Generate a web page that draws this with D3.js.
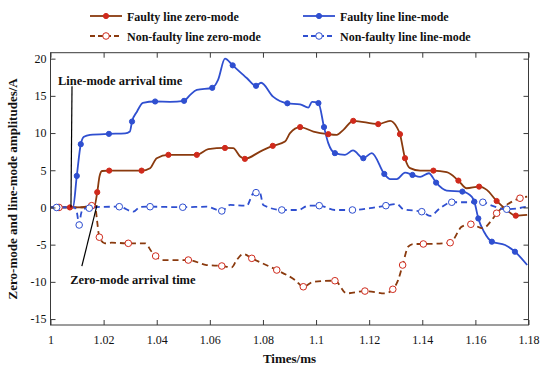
<!DOCTYPE html>
<html><head><meta charset="utf-8">
<script src="https://cdn.jsdelivr.net/npm/d3@7"></script>
<style>
html,body{margin:0;padding:0;background:#fff;}
svg{display:block;}
text{font-family:"Liberation Serif","Times New Roman",serif;}
</style></head>
<body><svg id="c" width="550" height="372"></svg>
<script>
// ---- data: [time ms, amplitude A, marker flag] ----
const seriesNames = ["Faulty line zero-mode","Faulty line line-mode","Non-faulty line zero-mode","Non-faulty line line-mode"];
const xTicks = [1,1.02,1.04,1.06,1.08,1.1,1.12,1.14,1.16,1.18];
const xTickLabels = ["1","1.02","1.04","1.06","1.08","1.1","1.12","1.14","1.16","1.18"];
const yTicks = [-15,-10,-5,0,5,10,15,20];
const yTickLabels = ["-15","-10","-5","0","5","10","15","20"];

const faultyZero = [
[1.0,0,0],[1.0073,0,1],[1.0164,0.03,0],[1.0176,2.05,1],[1.0185,4.24,0],[1.0194,4.9,0],[1.0221,4.95,1],
[1.0343,4.95,1],[1.0375,5.28,0],[1.04,6.62,0],[1.0444,7.07,1],[1.0551,7.07,1],[1.0594,7.83,0],[1.0657,8.0,1],
[1.0688,7.97,0],[1.0714,6.84,0],[1.0732,6.53,1],[1.0789,7.51,0],[1.0837,8.28,1],[1.0883,8.86,0],[1.0902,9.99,0],
[1.094,10.8,1],[1.099,10.2,0],[1.1046,9.85,1],[1.1078,9.76,0],[1.1103,10.43,0],[1.114,11.64,1],[1.1234,11.2,1],
[1.1279,11.64,0],[1.1304,10.8,0],[1.1316,9.85,1],[1.1335,6.62,1],[1.1354,5.28,0],[1.1392,4.95,0],[1.1442,4.95,1],
[1.1492,4.74,0],[1.1536,3.61,1],[1.1567,2.58,0],[1.1614,2.8,1],[1.1643,2.36,0],[1.168,0.87,1],[1.1718,-0.34,0],
[1.1752,-1.1,1],[1.1795,-1.0,0]];

const faultyLine = [
[1.0,0,0],[1.0073,0,0],[1.0085,0.07,0],[1.0099,4.24,1],[1.0114,8.5,1],[1.0126,9.49,0],[1.0149,9.76,0],
[1.022,9.89,1],[1.0281,9.96,0],[1.0299,10.2,0],[1.0307,11.55,1],[1.0326,12.9,0],[1.0348,14.07,0],[1.0394,14.24,1],
[1.045,14.2,0],[1.0503,14.33,1],[1.0526,15.14,0],[1.0551,15.8,0],[1.0609,16.08,1],[1.0631,17.16,0],[1.0657,20.0,0],
[1.0686,19.1,1],[1.0739,17.4,0],[1.0774,16.35,1],[1.0793,16.76,0],[1.0838,14.9,0],[1.0892,14.0,1],[1.094,13.86,0],
[1.0971,13.43,0],[1.0985,14.2,0],[1.1009,14.03,1],[1.103,10.8,1],[1.1046,8.64,0],[1.1071,7.3,1],[1.1109,7.07,0],
[1.1139,7.67,0],[1.1178,6.62,1],[1.121,7.3,0],[1.1257,4.5,1],[1.1279,3.8,0],[1.1304,3.8,0],[1.1335,4.68,0],
[1.1363,4.37,1],[1.1392,4.1,0],[1.1425,4.6,0],[1.1452,3.34,1],[1.1492,2.26,0],[1.1551,2.13,1],[1.1586,1.45,0],
[1.1596,0.78,1],[1.1611,-1.48,1],[1.1633,-3.3,0],[1.1662,-4.6,1],[1.1712,-5.05,0],[1.1749,-5.95,1],[1.1795,-7.74,0]];

const nonFaultyZero = [
[1.0,0,0],[1.0032,0,1],[1.0111,0,0],[1.0155,0.24,1],[1.0168,0.2,0],[1.0175,-1.68,0],[1.0184,-4.0,1],
[1.0205,-4.82,0],[1.023,-4.74,0],[1.0293,-4.82,1],[1.0356,-4.82,0],[1.0381,-5.95,0],[1.0396,-6.53,1],[1.0419,-7.07,0],
[1.0519,-7.07,1],[1.0588,-7.74,0],[1.0645,-7.87,1],[1.0682,-8.05,0],[1.0701,-7.07,0],[1.0726,-6.26,0],[1.0758,-6.84,1],
[1.0852,-8.41,1],[1.0921,-9.76,0],[1.0952,-10.66,1],[1.099,-9.99,0],[1.1071,-9.85,1],[1.1115,-11.55,0],[1.1184,-11.24,1],
[1.126,-11.55,0],[1.1289,-11.0,1],[1.1309,-9.76,0],[1.1326,-7.74,1],[1.1347,-5.28,0],[1.1366,-4.91,0],[1.1404,-4.91,1],
[1.1505,-4.74,1],[1.1549,-2.58,0],[1.1583,-2.26,1],[1.1628,-2.8,0],[1.1662,-1.68,0],[1.168,-0.78,1],[1.1718,0.34,0],
[1.1768,1.24,1],[1.1795,1.45,0]];

const nonFaultyLine = [
[1.0,0,0],[1.0023,0,1],[1.0089,0,0],[1.0099,-0.6,0],[1.0108,-2.36,1],[1.0115,-0.87,0],[1.0122,-0.2,0],
[1.0146,-0.1,1],[1.0186,0.07,0],[1.0259,0.1,1],[1.0312,-0.57,0],[1.0337,0.07,0],[1.0375,0.1,1],[1.0498,0.03,1],
[1.0588,0.1,0],[1.0645,-0.47,1],[1.0676,0.34,0],[1.0739,0.24,0],[1.0764,1.91,0],[1.0774,1.99,1],[1.0789,1.91,0],
[1.0801,0.34,0],[1.0871,-0.34,1],[1.0933,-0.34,0],[1.0971,0.24,0],[1.1012,0.24,1],[1.1071,-0.34,0],[1.1137,-0.34,1],
[1.1203,-0.1,0],[1.1263,0.24,1],[1.1304,0.47,0],[1.1329,-0.24,0],[1.1398,-0.57,1],[1.1429,-1.14,0],[1.1467,-0.1,0],
[1.1511,0.7,1],[1.1573,0.7,0],[1.1628,0.7,1],[1.1662,0.24,0],[1.1718,-0.24,1],[1.1795,0.1,0]];

// annotations: [label, text x,y (data), line from, line to]
const annLine = {label:"Line-mode arrival time", tx:1.0028, ty:16.4, x1:1.0081, y1:16.3, x2:1.0077, y2:0};
const annZero = {label:"Zero-mode arrival time", tx:1.0074, ty:-10.3, x1:1.0118, y1:-7.9, x2:1.0175, y2:0.3};

// ---- drawing ----
const svg = d3.select("#c");
const L=50.5, R=528.5, T=52.7, B=325;
const x = d3.scaleLinear().domain([1,1.18]).range([L,R]);
const y = d3.scaleLinear().domain([-15.8,20.8]).range([B,T]);
const axisCol = "#3a3a3a";

const brown="#8a3a0e", red="#d02a1c", blue="#2f4fd0";
const styles = [
 {data:faultyZero, line:brown, mk:red, fill:red, dash:null, r:2.6},
 {data:faultyLine, line:blue, mk:blue, fill:blue, dash:null, r:2.6},
 {data:nonFaultyZero, line:brown, mk:red, fill:"#fff", dash:"6,4", r:3.3},
 {data:nonFaultyLine, line:blue, mk:blue, fill:"#fff", dash:"6,4", r:3.3}
];

svg.append("rect").attr("x",0).attr("y",0).attr("width",550).attr("height",372).attr("fill","#fff");

const clip = svg.append("clipPath").attr("id","pc").append("rect")
  .attr("x",L).attr("y",T).attr("width",R-L).attr("height",B-T);

const plot = svg.append("g").attr("clip-path","url(#pc)");
const lineGen = d3.line().x(d=>x(d[0])).y(d=>y(d[1])).curve(d3.curveMonotoneX);

styles.forEach(s=>{
  plot.append("path").datum(s.data).attr("d",lineGen)
    .attr("fill","none").attr("stroke",s.line).attr("stroke-width",1.8)
    .attr("stroke-dasharray",s.dash).attr("stroke-linejoin","round");
});
styles.forEach(s=>{
  plot.selectAll(null).data(s.data.filter(d=>d[2]===1)).enter().append("circle")
    .attr("cx",d=>x(d[0])).attr("cy",d=>y(d[1])).attr("r",s.r)
    .attr("fill",s.fill).attr("stroke",s.mk).attr("stroke-width",1);
});

// annotations
[annLine, annZero].forEach(a=>{
  svg.append("line").attr("x1",x(a.x1)).attr("y1",y(a.y1)).attr("x2",x(a.x2)).attr("y2",y(a.y2))
    .attr("stroke","#000").attr("stroke-width",1.2);
  svg.append("text").attr("x",x(a.tx)).attr("y",y(a.ty)).attr("font-size",12.5).attr("font-weight","bold")
    .attr("fill","#111").text(a.label);
});

// axes
const gx = svg.append("g").attr("transform",`translate(0,${B})`)
  .call(d3.axisBottom(x).tickValues(xTicks).tickFormat((d,i)=>xTickLabels[i]).tickSizeInner(-5).tickSizeOuter(0).tickPadding(10));
const gxt = svg.append("g").attr("transform",`translate(0,${T})`)
  .call(d3.axisTop(x).tickValues(xTicks).tickFormat("").tickSizeInner(-5).tickSizeOuter(0));
const gy = svg.append("g").attr("transform",`translate(${L},0)`)
  .call(d3.axisLeft(y).tickValues(yTicks).tickFormat((d,i)=>yTickLabels[i]).tickSizeInner(-5).tickSizeOuter(0).tickPadding(4));
const gyr = svg.append("g").attr("transform",`translate(${R},0)`)
  .call(d3.axisRight(y).tickValues(yTicks).tickFormat("").tickSizeInner(-5).tickSizeOuter(0));
[gx,gxt,gy,gyr].forEach(g=>{
  g.select(".domain").remove();
  g.selectAll(".tick line").attr("stroke",axisCol);
  g.selectAll("text").attr("font-size",12).attr("fill","#111")
    .attr("font-family",'"Liberation Serif","Times New Roman",serif');
});
svg.append("rect").attr("x",L).attr("y",T).attr("width",R-L).attr("height",B-T)
  .attr("fill","none").attr("stroke",axisCol).attr("stroke-width",1);

// axis labels
svg.append("text").attr("x",(L+R)/2).attr("y",363).attr("text-anchor","middle")
  .attr("font-size",13).attr("font-weight","bold").attr("fill","#111").text("Times/ms");
svg.append("text").attr("transform",`translate(17,${(T+B)/2}) rotate(-90)`).attr("text-anchor","middle")
  .attr("font-size",13).attr("font-weight","bold").attr("fill","#111").text("Zero-mode and line-mode amplitudes/A");

// legend
const legPos = [[90,16],[303,16],[90,36],[303,36]];
styles.forEach((s,i)=>{
  const [lx,ly]=legPos[i];
  const g=svg.append("g");
  g.append("line").attr("x1",lx).attr("x2",lx+32).attr("y1",ly).attr("y2",ly)
    .attr("stroke",s.line).attr("stroke-width",1.8).attr("stroke-dasharray",s.dash?"5,3":null);
  g.append("circle").attr("cx",lx+16).attr("cy",ly).attr("r",s.r).attr("fill",s.fill).attr("stroke",s.mk).attr("stroke-width",1);
  g.append("text").attr("x",lx+37).attr("y",ly+4.5).attr("font-size",12).attr("font-weight","bold")
    .attr("fill","#111").text(seriesNames[i]);
});
</script></body></html>
